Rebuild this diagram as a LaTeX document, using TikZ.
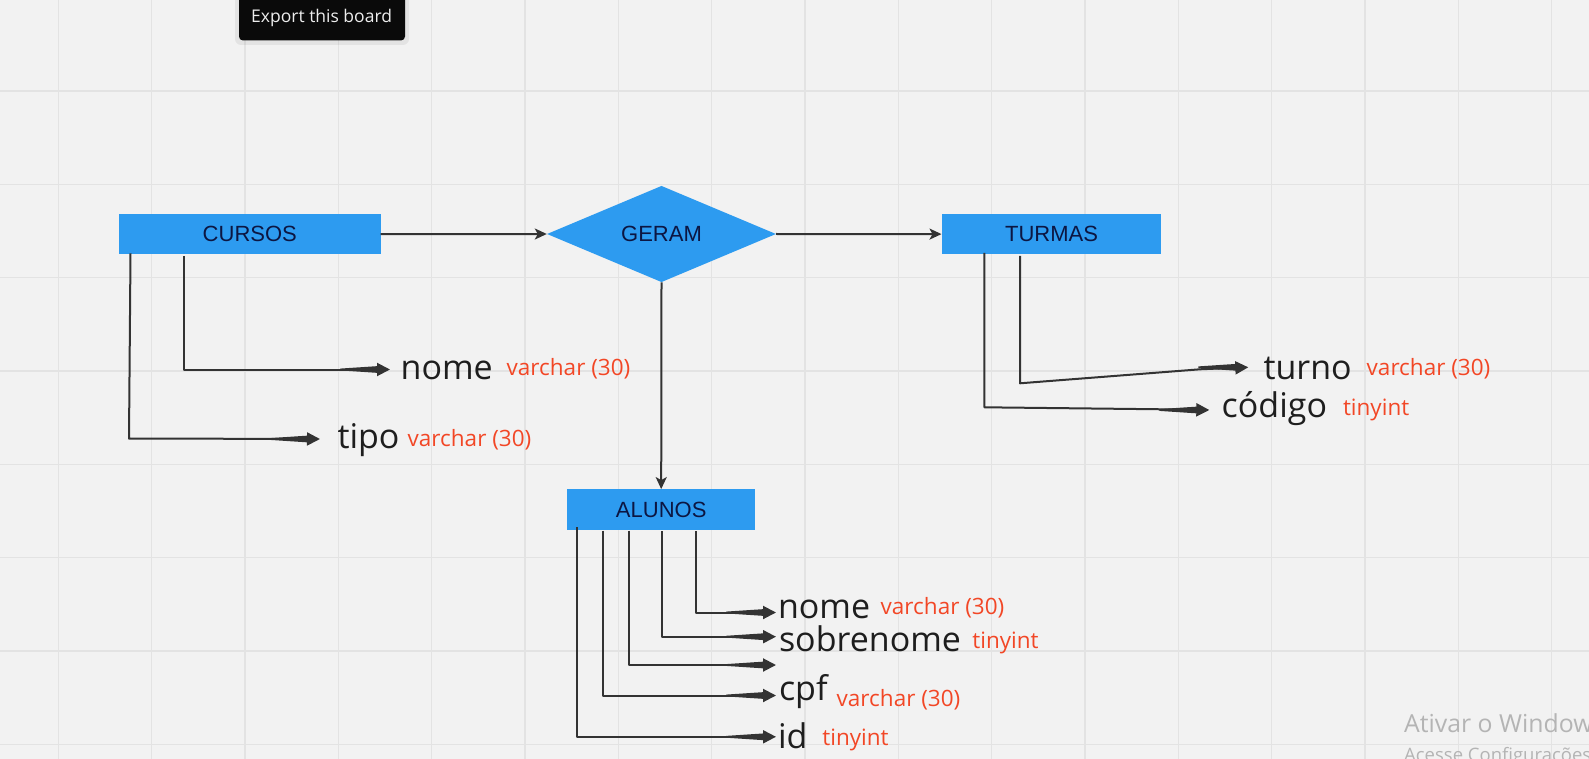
\documentclass[tikz,border=0pt]{standalone}
\usepackage{fontspec}
\setmainfont{Open Sans}
\newfontfamily\arialf{Liberation Sans}
\usetikzlibrary{arrows.meta,shapes.geometric,calc}
\definecolor{bgc}{HTML}{F2F2F2}
\definecolor{gridc}{HTML}{E3E3E3}
\definecolor{boxblue}{HTML}{2D9BF0}
\definecolor{navy}{HTML}{0C1642}
\definecolor{ink}{HTML}{333333}
\definecolor{attrtext}{HTML}{1E1E1E}
\definecolor{typered}{HTML}{F24726}
\definecolor{tipbg}{HTML}{0A0A0A}
\definecolor{wmark}{HTML}{B4B4B4}
\newcommand\taper[1]{\fill[ink] ($(#1)+(-50,0.9)$) -- ($(#1)+(-12,3.4)$) -- ($(#1)+(-12,-3.4)$) -- ($(#1)+(-50,-0.9)$) -- cycle;}
\begin{document}
\begin{tikzpicture}[x=1pt,y=-1pt,
  entity/.style={fill=boxblue, inner sep=0pt, text=navy, font=\arialf\fontsize{22}{26}\selectfont},
  relation/.style={diamond, fill=boxblue, inner sep=0pt, text=navy, font=\arialf\fontsize{22}{26}\selectfont},
  mainarrow/.style={draw=ink, line width=2pt, -{Stealth[length=12pt,width=11pt,inset=3pt]}},
  attrline/.style={draw=ink, line width=2pt, line join=round, -{Triangle[length=13pt,width=13pt]}},
  attrname/.style={anchor=base west, inner sep=0pt, text=attrtext, font=\fontsize{34}{40}\selectfont},
  attrtype/.style={anchor=base west, inner sep=0pt, text=typered, font=\fontsize{22.5}{27}\selectfont},
]
\useasboundingbox (0,0) rectangle (1589,759);
\clip (0,0) rectangle (1589,759);
\fill[bgc] (0,0) rectangle (1589,759);
\foreach \i in {0,...,16} \draw[gridc, line width=1.2pt] ({58.4+93.33*\i},0) -- ++(0,759);
\foreach \j in {0,...,7} \draw[gridc, line width=1.2pt] (0,{91+93.33*\j}) -- ++(1589,0);

% tooltip
\fill[black, opacity=0.06, rounded corners=6pt] (235,-10) rectangle (409,45);
\fill[tipbg, rounded corners=4pt] (239,-10) rectangle (405,40.5);
\node[anchor=base west, inner sep=0pt, text=white!93!black, font=\fontsize{17.5}{21}\selectfont] (export) at (251,22.7) {Export this board};

% entities
\node[entity, minimum width=261.4pt, minimum height=40.6pt] (cursos) at (249.8,234.1) {CURSOS};
\node[relation, minimum width=229pt, minimum height=93.5pt] (geram) at (661.5,234) {GERAM};
\node[entity, minimum width=219.6pt, minimum height=40.6pt] (turmas) at (1051.5,234.1) {TURMAS};
\node[entity, minimum width=187.7pt, minimum height=41pt] (alunos) at (661.2,509.8) {ALUNOS};

\draw[mainarrow] (cursos.east) -- (geram.west);
\draw[mainarrow] (geram.east) -- (turmas.west);
\draw[mainarrow] (geram.south) -- (alunos.north);

% CURSOS attributes
\node[attrname] (cnome) at (400.5,379) {nome};
\node[attrtype] (cnomet) at (506.5,375) {varchar (30)};
\node[attrname] (ctipo) at (337.3,448.3) {tipo};
\node[attrtype] (ctipot) at (407.5,446) {varchar (30)};
\coordinate (cs1) at (184.4,256);
\coordinate (cc1) at (184.4,369.5);
\coordinate (ct1) at (390,369.5);
\coordinate (cs2) at (130.5,253.3);
\coordinate (cc2) at (129,438.5);
\coordinate (ct2) at (320,439);
\draw[attrline] (cs1) -- (cc1) -- (ct1);
\draw[attrline] (cs2) -- (cc2) -- (ct2);
\taper{ct1}\taper{ct2}

% TURMAS attributes
\node[attrname] (tturno) at (1263.3,379) {turno};
\node[attrtype] (tturnot) at (1366.5,375) {varchar (30)};
\node[attrname] (tcod) at (1221.5,417.3) {código};
\node[attrtype] (tcodt) at (1342.8,415.3) {tinyint};
\coordinate (ts1) at (1020,256);
\coordinate (tc1) at (1020,383.3);
\coordinate (tb1) at (1200,369.3);
\coordinate (tt1) at (1248.3,367.3);
\coordinate (ts2) at (984.3,253);
\coordinate (tc2) at (984.3,407.3);
\coordinate (tb2) at (1163,409.3);
\coordinate (tt2) at (1209.3,410);
\draw[attrline] (ts1) -- (tc1) -- (tb1) -- (tt1);
\draw[attrline] (ts2) -- (tc2) -- (tb2) -- (tt2);
\taper{tt1}\taper{tt2}

% ALUNOS attributes
\node[attrname] (anome) at (777.8,618.3) {nome};
\node[attrtype] (anomet) at (880.5,614.3) {varchar (30)};
\node[attrname] (asobre) at (778.8,651.7) {sobrenome};
\node[attrtype] (asobret) at (972.2,648.3) {tinyint};
\node[attrname] (acpf) at (778.8,700) {cpf};
\node[attrtype] (acpft) at (836.5,706.7) {varchar (30)};
\node[attrname] (aid) at (777.8,748.3) {id};
\node[attrtype] (aidt) at (822.2,745.7) {tinyint};
\coordinate (as1) at (696,531);
\coordinate (ac1) at (696,612.5);
\coordinate (at1) at (776,612.5);
\coordinate (as2) at (661.7,531);
\coordinate (ac2) at (661.7,636.7);
\coordinate (at2) at (776,636.7);
\coordinate (as3) at (629.3,530.5);
\coordinate (ac3) at (629.3,665);
\coordinate (at3) at (776,665);
\coordinate (as4) at (602.7,530.5);
\coordinate (ac4) at (602.7,695.5);
\coordinate (at4) at (776,695.5);
\coordinate (as5) at (576.7,527);
\coordinate (ac5) at (576.7,736.8);
\coordinate (at5) at (776,736.8);
\foreach \k in {1,...,5}{\draw[attrline] (as\k) -- (ac\k) -- (at\k); \taper{at\k}}

% watermark
\node[anchor=base west, inner sep=0pt, text=wmark, font=\fontsize{24.8}{29}\selectfont] (wm1) at (1404,732) {Ativar o Windows};
\node[anchor=base west, inner sep=0pt, text=wmark, font=\fontsize{18.5}{22}\selectfont] (wm2) at (1404,761) {Acesse Configurações para ativar o Windows.};
\end{tikzpicture}
\end{document}
